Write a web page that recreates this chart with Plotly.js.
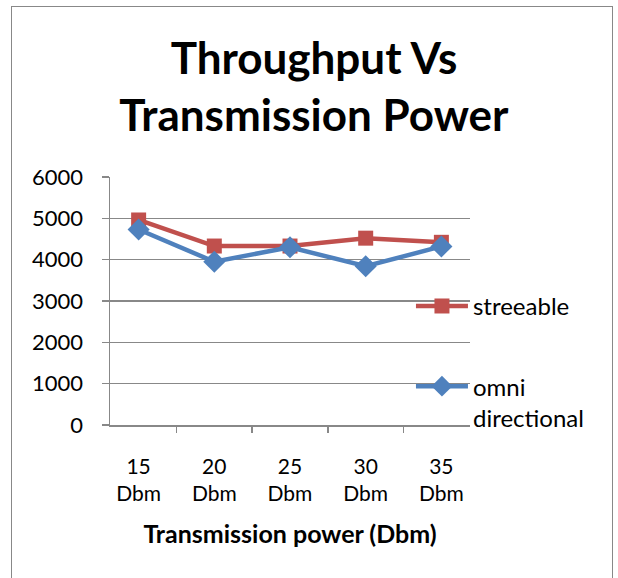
<!DOCTYPE html>
<html><head><meta charset="utf-8">
<script src="https://cdn.plot.ly/plotly-3.0.1.min.js"></script>
<style>body{margin:0;background:#fff}#wrap{position:relative;width:618px;height:578px;overflow:hidden}
#frame{position:absolute;left:11px;top:6px;width:600px;height:600px;border:1.5px solid #888;pointer-events:none}
#chart{position:absolute;left:0;top:0;width:618px;height:578px}</style>
</head><body><div id="wrap"><div id="chart"></div><div id="frame"></div></div>
<script>
const categories = ["15<br>Dbm", "20<br>Dbm", "25<br>Dbm", "30<br>Dbm", "35<br>Dbm"];
const streeable = [4960, 4330, 4330, 4520, 4420];
const omniDirectional = [4730, 3950, 4300, 3840, 4320];
const yTicks = [0, 1000, 2000, 3000, 4000, 5000, 6000];
const FONT = "Lato, 'Liberation Sans', sans-serif";

const traces = [
  {x: categories, y: streeable, name: "streeable", legendgroup: "a", type: "scatter", mode: "lines+markers",
   line: {color: "#C0504D", width: 4.5}, marker: {symbol: "square", size: 15, color: "#C0504D"}},
  {x: categories, y: omniDirectional, name: "omni<br>directional", legendgroup: "b", type: "scatter", mode: "lines+markers",
   line: {color: "#4F81BD", width: 4.5}, marker: {symbol: "diamond", size: 17, color: "#4F81BD"}}
];
const layout = {
  width: 618, height: 578,
  margin: {l: 110, r: 148, t: 177, b: 153},
  paper_bgcolor: "#fff", plot_bgcolor: "#fff",
  font: {family: FONT, size: 20, color: "#000"},
  title: {text: "<b>Throughput Vs<br>Transmission Power</b>", font: {family: FONT, size: 44, color: "#000"},
          x: 0.508, xref: "container", xanchor: "center", yref: "container", y: 0.8725, yanchor: "middle"},
  xaxis: {type: "category", tickson: "boundaries", ticks: "outside", ticklen: 6, tickcolor: "#888", tickwidth: 1.5,
          showline: true, linecolor: "#888", linewidth: 1.5, showgrid: false, ticklabelstandoff: 22,
          tickfont: {family: FONT, size: 21},
          title: {text: "<b>Transmission power (Dbm)</b>", font: {family: FONT, size: 25}, standoff: 21}},
  yaxis: {range: [0, 6000], tickvals: yTicks, ticks: "outside", ticklen: 7, tickcolor: "#888", tickwidth: 1.5,
          showline: true, linecolor: "#888", linewidth: 1.5, gridcolor: "#888", gridwidth: 1.5,
          zeroline: false, ticklabelstandoff: 14, tickfont: {family: FONT, size: 22}},
  showlegend: true,
  legend: {x: 0.836, xanchor: "left", y: 0.569, yanchor: "top", bgcolor: "rgba(0,0,0,0)", itemwidth: 52,
           valign: "top", traceorder: "grouped", tracegroupgap: 46, font: {family: FONT, size: 24}}
};
Plotly.newPlot("chart", traces, layout, {displayModeBar: false, staticPlot: true});
</script></body></html>
